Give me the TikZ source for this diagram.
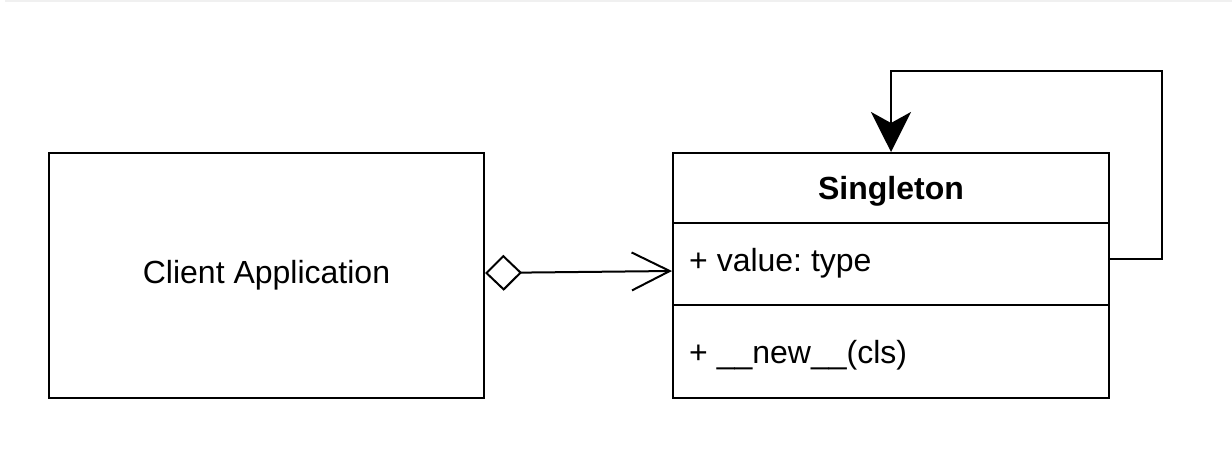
\documentclass[tikz,border=0pt]{standalone}
\usepackage{fontspec}
\setmainfont{Liberation Sans}
\frenchspacing
\usetikzlibrary{arrows.meta,positioning}
\begin{document}
\begin{tikzpicture}[x=1pt,y=-1pt,
  box/.style={draw=black,line width=2pt,fill=white,font=\fontsize{32}{38}\selectfont,inner sep=0pt},
  comp/.style={box,minimum width=436pt,anchor=north west},
  ctext/.style={font=\fontsize{32}{38}\selectfont,inner sep=0pt,anchor=west},
  conn/.style={draw=black,line width=2pt}]
\useasboundingbox (0,0) rectangle (1232,462);
\fill[black!6] (5,0) rectangle (1232,2);
\node[box,minimum width=435pt,minimum height=245pt,anchor=north west] (client) at (48,152) {Client Application};
\node[comp,minimum height=70pt] (title) at (672,152) {};
\node[comp,minimum height=82pt] (attrs) at (672,222) {};
\node[comp,minimum height=93pt] (meth) at (672,304) {};
\node[ctext,anchor=center,font=\fontsize{32}{38}\selectfont\bfseries] (titletext) at ([yshift=-3pt]title.center) {Singleton};
\node[ctext] (attrstext) at ([xshift=17pt,yshift=1pt]attrs.west) {+ value: type};
\node[ctext] (methtext) at ([xshift=17pt,yshift=-4pt]meth.west) {+ \_\_new\_\_(cls)};
\coordinate (c1) at (1162,71);
\draw[conn,{Diamond[open,fill=white,length=37pt,width=36pt]}-{Straight Barb[length=38pt,width=38pt]}] ([yshift=2.5pt]client.east) -- ([yshift=-7pt]attrs.west);
\draw[conn,-{Stealth[length=40pt,width=40pt,inset=11pt]}] ([yshift=5pt]attrs.east) -| (c1) -| (title.north);
\end{tikzpicture}
\end{document}
